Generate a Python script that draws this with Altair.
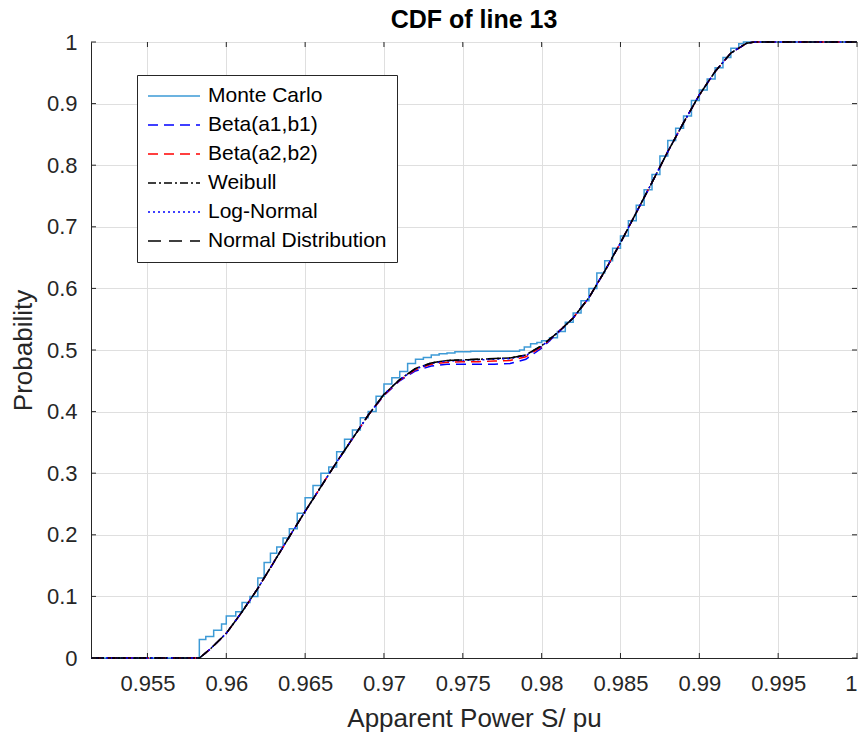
import altair as alt
import pandas as pd

# ---------------- data ----------------
x_fit = [0.95142, 0.9580, 0.9583, 0.959, 0.960, 0.961, 0.962, 0.963, 0.964, 0.965,
         0.966, 0.967, 0.968, 0.969, 0.970, 0.971, 0.972, 0.973, 0.974, 0.975,
         0.976, 0.977, 0.978, 0.979, 0.980, 0.981, 0.982, 0.983, 0.984, 0.985,
         0.986, 0.987, 0.988, 0.989, 0.990, 0.991, 0.992, 0.993, 0.9935, 1.0]

beta1 = [0, 0, 0, 0.015, 0.040, 0.075, 0.113, 0.155, 0.197, 0.238,
         0.278, 0.318, 0.356, 0.394, 0.426, 0.450, 0.466, 0.474, 0.477, 0.477,
         0.477, 0.477, 0.478, 0.485, 0.503, 0.527, 0.552, 0.585, 0.628, 0.674,
         0.723, 0.772, 0.822, 0.869, 0.914, 0.952, 0.982, 0.998, 1.0, 1.0]
beta2 = [0, 0, 0, 0.015, 0.040, 0.075, 0.113, 0.155, 0.197, 0.238,
         0.278, 0.318, 0.356, 0.394, 0.427, 0.451, 0.468, 0.477, 0.480, 0.481,
         0.481, 0.482, 0.483, 0.489, 0.505, 0.528, 0.552, 0.585, 0.628, 0.674,
         0.723, 0.772, 0.822, 0.869, 0.914, 0.952, 0.982, 0.998, 1.0, 1.0]
weibull = [0, 0, 0, 0.015, 0.040, 0.075, 0.113, 0.155, 0.197, 0.238,
           0.278, 0.318, 0.356, 0.394, 0.428, 0.452, 0.470, 0.479, 0.483, 0.484,
           0.485, 0.486, 0.487, 0.492, 0.507, 0.528, 0.552, 0.585, 0.628, 0.674,
           0.723, 0.772, 0.822, 0.869, 0.914, 0.952, 0.982, 0.998, 1.0, 1.0]
lognormal = [0, 0, 0, 0.015, 0.040, 0.075, 0.113, 0.155, 0.197, 0.238,
             0.278, 0.318, 0.356, 0.394, 0.428, 0.452, 0.469, 0.478, 0.482, 0.483,
             0.484, 0.485, 0.486, 0.491, 0.506, 0.528, 0.552, 0.585, 0.628, 0.674,
             0.723, 0.772, 0.822, 0.869, 0.914, 0.952, 0.982, 0.998, 1.0, 1.0]
normal = [0, 0, 0, 0.015, 0.040, 0.075, 0.113, 0.155, 0.197, 0.238,
          0.278, 0.318, 0.356, 0.394, 0.428, 0.452, 0.470, 0.479, 0.483, 0.484,
          0.485, 0.486, 0.487, 0.492, 0.507, 0.528, 0.552, 0.585, 0.628, 0.674,
          0.723, 0.772, 0.822, 0.869, 0.914, 0.952, 0.982, 0.998, 1.0, 1.0]

x_mc = [0.95142, 0.95829, 0.9587, 0.9592, 0.9597, 0.9600, 0.9606, 0.9610, 0.9615, 0.9620,
        0.9624, 0.9628, 0.9632, 0.9636, 0.9640, 0.9645, 0.9650, 0.9655, 0.9660, 0.9665,
        0.9670, 0.9675, 0.9680, 0.9685, 0.9690, 0.9695, 0.9700, 0.9705, 0.9710, 0.9715,
        0.9720, 0.9725, 0.9730, 0.9735, 0.9740, 0.9745, 0.9755, 0.9786, 0.9789, 0.9793,
        0.9797, 0.9800, 0.9805, 0.9810, 0.9815, 0.9820, 0.9825, 0.9830, 0.9835, 0.9840,
        0.9845, 0.9850, 0.9855, 0.9860, 0.9865, 0.9870, 0.9875, 0.9880, 0.9885, 0.9890,
        0.9895, 0.9900, 0.9905, 0.9910, 0.9915, 0.9920, 0.9925, 0.9928, 1.0]
y_mc = [0, 0.030, 0.035, 0.045, 0.055, 0.068, 0.075, 0.090, 0.100, 0.130,
        0.155, 0.170, 0.180, 0.195, 0.210, 0.235, 0.260, 0.280, 0.300, 0.310,
        0.335, 0.355, 0.370, 0.390, 0.400, 0.425, 0.445, 0.455, 0.465, 0.478,
        0.485, 0.488, 0.492, 0.494, 0.495, 0.497, 0.498, 0.500, 0.505, 0.510,
        0.512, 0.515, 0.520, 0.530, 0.545, 0.560, 0.580, 0.600, 0.625, 0.645,
        0.665, 0.685, 0.710, 0.735, 0.760, 0.785, 0.815, 0.840, 0.860, 0.880,
        0.905, 0.922, 0.940, 0.958, 0.975, 0.990, 0.997, 1.0, 1.0]

series_names = ["Monte Carlo", "Beta(a1,b1)", "Beta(a2,b2)", "Weibull",
                "Log-Normal", "Normal Distribution"]
series_colors = ["#3D9AD6", "#0000FF", "#FF0000", "#000000", "#0000FF", "#000000"]
series_dash = [[1, 0], [10, 6], [10, 6], [8, 3, 2, 3], [2, 3], [13, 8]]

x_ticks = [0.955, 0.96, 0.965, 0.97, 0.975, 0.98, 0.985, 0.99, 0.995, 1.0]
y_ticks = [0, 0.1, 0.2, 0.3, 0.4, 0.5, 0.6, 0.7, 0.8, 0.9, 1.0]

# ---------------- frames ----------------
mc_df = pd.DataFrame({"x": x_mc, "y": y_mc, "series": "Monte Carlo"})
fit_rows = []
for name, ys in zip(series_names[1:], [beta1, beta2, weibull, lognormal, normal]):
    for xv, yv in zip(x_fit, ys):
        fit_rows.append({"x": xv, "y": yv, "series": name})
fit_df = pd.DataFrame(fit_rows)
xt_df = pd.DataFrame({"v": x_ticks})
yt_df = pd.DataFrame({"v": y_ticks})

W, H = 766, 616
FONT = "Liberation Sans"
GRAY = "#262626"

xscale = alt.Scale(domain=[0.95142, 1.0], nice=False, zero=False)
yscale = alt.Scale(domain=[0, 1], nice=False)

color = alt.Color("series:N", scale=alt.Scale(domain=series_names, range=series_colors),
                  legend=alt.Legend(title=None, orient="none", legendX=46, legendY=33,
                                    symbolType="stroke", symbolSize=2704, symbolStrokeWidth=1.5,
                                    clipHeight=22, rowPadding=7,
                                    labelFontSize=21, labelFont=FONT, labelColor="#000000",
                                    labelOffset=7, labelLimit=400,
                                    padding=10, strokeColor=GRAY, fillColor="white",
                                    cornerRadius=0))
dash = alt.StrokeDash("series:N", scale=alt.Scale(domain=series_names, range=series_dash),
                      legend=None)

xaxis = alt.Axis(values=x_ticks, format="~g", title="Apparent Power S/ pu",
                 grid=True, ticks=False, labelPadding=15)
yaxis = alt.Axis(values=y_ticks, format="~g", title="Probability",
                 grid=True, ticks=False, labelPadding=14)

mc = alt.Chart(mc_df).mark_line(interpolate="step-after", strokeWidth=1.5).encode(
    x=alt.X("x:Q", scale=xscale, axis=xaxis),
    y=alt.Y("y:Q", scale=yscale, axis=yaxis),
    color=color, strokeDash=dash, order=alt.Order("x:Q"))

fits = alt.Chart(fit_df).mark_line(strokeWidth=1.5).encode(
    x=alt.X("x:Q", scale=xscale),
    y=alt.Y("y:Q", scale=yscale),
    color=color, strokeDash=dash, detail="series:N", order=alt.Order("x:Q"))

tb = alt.Chart(xt_df).mark_rule(color=GRAY, strokeWidth=1).encode(
    x=alt.X("v:Q", scale=xscale), y=alt.value(H), y2=alt.value(H - 5))
tt = alt.Chart(xt_df).mark_rule(color=GRAY, strokeWidth=1).encode(
    x=alt.X("v:Q", scale=xscale), y=alt.value(0), y2=alt.value(5))
tl = alt.Chart(yt_df).mark_rule(color=GRAY, strokeWidth=1).encode(
    y=alt.Y("v:Q", scale=yscale), x=alt.value(0), x2=alt.value(5))
tr = alt.Chart(yt_df).mark_rule(color=GRAY, strokeWidth=1).encode(
    y=alt.Y("v:Q", scale=yscale), x=alt.value(W), x2=alt.value(W - 5))

chart = alt.layer(mc, fits, tb, tt, tl, tr).properties(
    width=W, height=H,
    title=alt.Title("CDF of line 13", fontSize=25, font=FONT, fontWeight="bold",
                    color="#000000", offset=9, dy=11),
    autosize=alt.AutoSizeParams(type="none"),
    padding={"left": 91, "top": 42, "right": 1, "bottom": 80},
    background="white",
).configure_view(stroke=GRAY, strokeWidth=1).configure_axis(
    labelFont=FONT, labelFontSize=22, labelColor=GRAY,
    titleFont=FONT, titleFontSize=26, titleColor=GRAY, titleFontWeight="normal",
    gridColor="#DFDFDF", gridWidth=1, domainColor=GRAY, domainWidth=1,
).configure_axisX(titlePadding=11).configure_axisY(titlePadding=10)

chart.save("out.html", embed_options={"renderer": "svg", "actions": False})
